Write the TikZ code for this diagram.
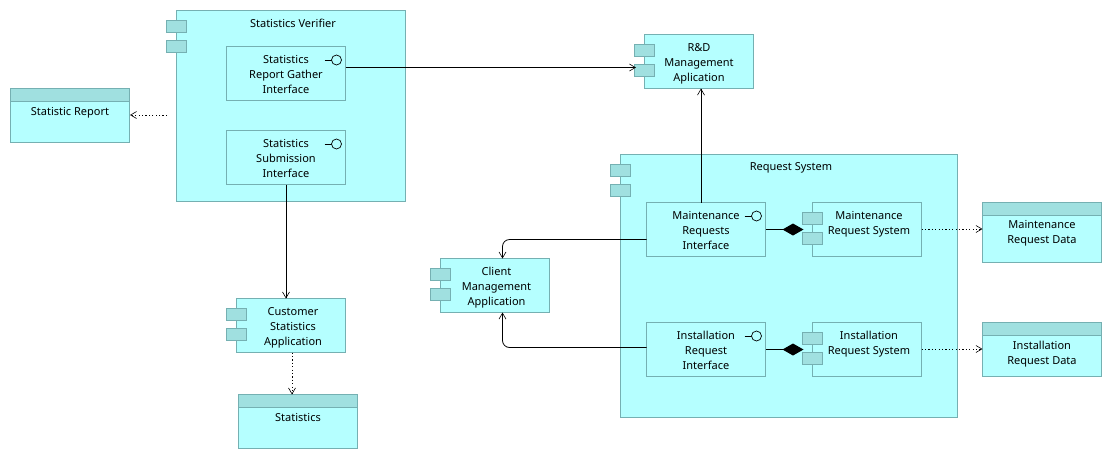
\documentclass[tikz,border=0pt]{standalone}
\usepackage{fontspec}
\setmainfont{Noto Sans}
\usetikzlibrary{arrows.meta}
\definecolor{fillc}{HTML}{B5FFFF}
\definecolor{linec}{HTML}{75B0B2}
\definecolor{headc}{HTML}{A0E0E0}
\tikzset{x=1pt,y=-1pt,
 box/.style={draw=linec,fill=fillc,line width=0.9pt},
 tab/.style={draw=linec,fill=headc,line width=0.9pt},
 lbl/.style={font=\fontsize{11}{15}\selectfont,align=center,text=black,inner sep=0pt},
 conn/.style={draw=black,line width=0.8pt,-{Straight Barb[length=6pt,width=7pt,line width=0.6pt]}},
 dep/.style={conn,dash pattern=on 1.2pt off 2.2pt},
 complink/.style={draw=black,line width=0.8pt}
}
\newcommand{\compbox}[5]{% name x y w h
 \path[box] (#2,#3) rectangle +(#4,#5);
 \path[tab] (#2-10,#3+10) rectangle +(20,12);
 \path[tab] (#2-10,#3+30) rectangle +(20,12);
}
\newcommand{\databox}[5]{%
 \path[box] (#2,#3) rectangle +(#4,#5);
 \path[tab] (#2,#3) rectangle +(#4,13);
}
\newcommand{\ifbox}[5]{%
 \path[box] (#2,#3) rectangle +(#4,#5);
 \draw[line width=0.7pt,black] (#2+98,#3+13.5) -- +(7,0);
 \draw[line width=0.7pt,black,fill=fillc] (#2+110,#3+13.5) circle (5);
}
\begin{document}
\begin{tikzpicture}
\useasboundingbox (0,0) rectangle (1112,459);
\fill[white] (0,0) rectangle (1112,459);
\compbox{sv}{176.5}{10.5}{229}{191}
\node[lbl] (svt) at (293,23.5) {Statistics Verifier};
\ifbox{a}{226.5}{46.5}{119}{54}
\node[lbl] (anode) at (286,74) {Statistics\\Report Gather\\Interface};
\ifbox{b}{226.5}{130.5}{119}{54}
\node[lbl] (bnode) at (286,158) {Statistics\\Submission\\Interface};
\databox{sr}{10.5}{88.5}{119}{54}
\node[lbl] (srt) at (70,112.5) {Statistic Report};
\compbox{rd}{644.5}{34.5}{109}{54}
\node[lbl] (rdt) at (699,64) {R\&D\\Management\\Aplication};
\compbox{rs}{620.5}{154.5}{337}{263}
\node[lbl] (rst) at (791,167.5) {Request System};
\ifbox{m}{646.5}{202.5}{119}{54}
\node[lbl] (mt) at (706,230) {Maintenance\\Requests\\Interface};
\ifbox{i}{646.5}{322.5}{119}{54}
\node[lbl] (it) at (706,350) {Installation\\Request\\Interface};
\compbox{ms}{812.5}{202.5}{109}{54}
\node[lbl] (mst) at (869,224) {Maintenance\\Request System};
\compbox{is}{812.5}{322.5}{109}{54}
\node[lbl] (ist) at (869,344) {Installation\\Request System};
\databox{md}{982.5}{202.5}{119}{60}
\node[lbl] (mdt) at (1042,233.5) {Maintenance\\Request Data};
\databox{id}{982.5}{322.5}{119}{54}
\node[lbl] (idt) at (1042,354.5) {Installation\\Request Data};
\compbox{cm}{440.5}{258.5}{109}{54}
\node[lbl] (cmt) at (496.5,288) {Client\\Management\\Application};
\compbox{cs}{236.5}{298.5}{109}{54}
\node[lbl] (cst) at (293,328) {Customer\\Statistics\\Application};
\databox{st}{238.5}{394.5}{119}{54}
\node[lbl] (stt) at (298,417.5) {Statistics};
% connectors
\coordinate (c1) at (345.5,67.5);
\coordinate (c1e) at (636,67.5);
\draw[conn] (c1) -- (c1e);
\coordinate (c2) at (167,115);
\coordinate (c2e) at (130,115);
\draw[dep] (c2) -- (c2e);
\coordinate (c3) at (286,184.5);
\coordinate (c3e) at (286,298.5);
\draw[conn] (c3) -- (c3e);
\coordinate (c4) at (292,352.5);
\coordinate (c4e) at (292,394.5);
\draw[dep] (c4) -- (c4e);
\coordinate (c5) at (701,202.5);
\coordinate (c5e) at (701,88.5);
\draw[conn] (c5) -- (c5e);
\coordinate (c6) at (646.5,239.5);
\coordinate (c6e) at (502.5,258.5);
\draw[conn,rounded corners=7pt] (c6) -- (502.5,239.5) -- (c6e);
\coordinate (c7) at (646.5,347.5);
\coordinate (c7e) at (502.5,312.5);
\draw[conn,rounded corners=7pt] (c7) -- (502.5,347.5) -- (c7e);
\coordinate (c8) at (765.5,229.5);
\coordinate (c8e) at (783,229.5);
\draw[complink] (c8) -- (c8e);
\fill[black] (782.5,229.5) -- (793,223.5) -- (803.5,229.5) -- (793,235.5) -- cycle;
\coordinate (c9) at (765.5,349.5);
\coordinate (c9e) at (783,349.5);
\draw[complink] (c9) -- (c9e);
\fill[black] (782.5,349.5) -- (793,343.5) -- (803.5,349.5) -- (793,355.5) -- cycle;
\coordinate (c10) at (921.5,229);
\coordinate (c10e) at (982.5,229);
\draw[dep] (c10) -- (c10e);
\coordinate (c11) at (921.5,349);
\coordinate (c11e) at (982.5,349);
\draw[dep] (c11) -- (c11e);
\end{tikzpicture}
\end{document}
